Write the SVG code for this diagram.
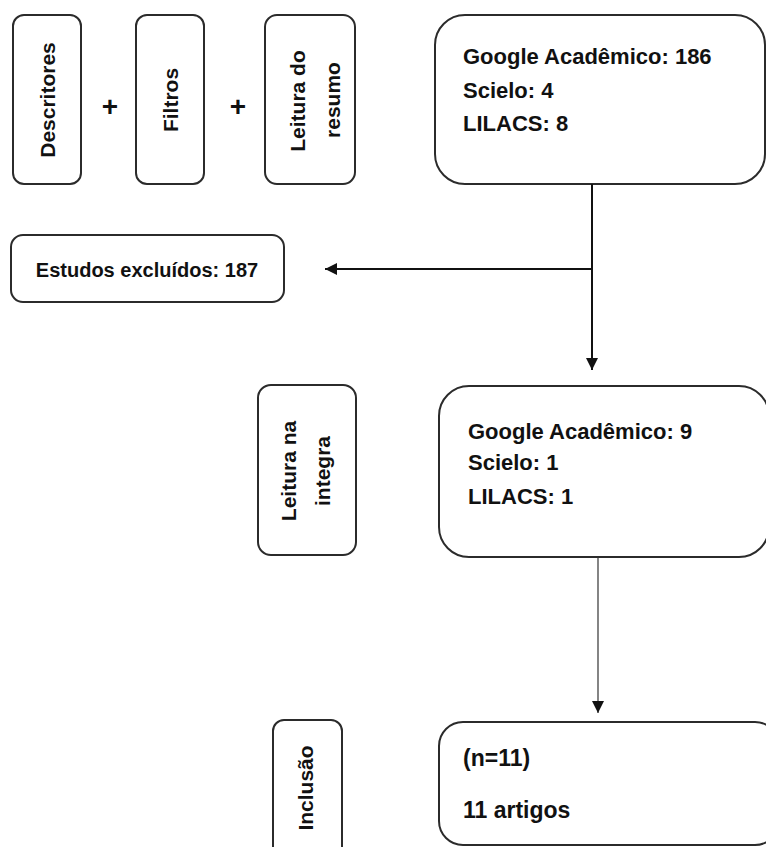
<svg xmlns="http://www.w3.org/2000/svg" width="766" height="847" viewBox="0 0 766 847">
<style>
.box{fill:#fff;stroke:#2b2b2b;stroke-width:2}
.t{font-family:"Liberation Sans",Arial,sans-serif;font-weight:bold;fill:#111}
.v{font-size:21px;text-anchor:middle;dominant-baseline:central}
.h{font-size:22px}
.ln{stroke:#111;stroke-width:2;fill:none}
.ln1{stroke:#333;stroke-width:1.2;fill:none}
</style>
<defs>
<marker id="ah" markerWidth="12" markerHeight="12" refX="12" refY="6" orient="auto" markerUnits="userSpaceOnUse">
<path d="M0,0 L12,6 L0,12 Z" fill="#111"/>
</marker>
</defs>
<rect width="766" height="847" fill="#fff"/>
<g id="descritores">
<rect class="box" x="13" y="15" width="68" height="169" rx="11"/>
<text class="t v" transform="translate(47,100) rotate(-90)">Descritores</text>
</g>
<g id="plus1"><text class="t" x="110" y="116" font-size="28" text-anchor="middle">+</text></g>
<g id="filtros">
<rect class="box" x="136" y="15" width="68" height="169" rx="11"/>
<text class="t v" transform="translate(170,100) rotate(-90)">Filtros</text>
</g>
<g id="plus2"><text class="t" x="238" y="116" font-size="28" text-anchor="middle">+</text></g>
<g id="leitura-resumo">
<rect class="box" x="265" y="15" width="90" height="169" rx="12"/>
<text class="t v" transform="translate(297,101) rotate(-90)">Leitura do</text>
<text class="t v" transform="translate(332,100) rotate(-90)">resumo</text>
</g>
<g id="busca">
<rect class="box" x="435" y="15" width="330" height="169" rx="30"/>
<text class="t h" x="463" y="64">Google Acadêmico: 186</text>
<text class="t h" x="463" y="98">Scielo: 4</text>
<text class="t h" x="463" y="131">LILACS: 8</text>
</g>
<g id="excluidos">
<rect class="box" x="11" y="235" width="273" height="67" rx="12"/>
<text class="t" x="147" y="277" font-size="20" text-anchor="middle">Estudos excluídos: 187</text>
</g>
<g id="leitura-integra">
<rect class="box" x="258" y="385" width="98" height="170" rx="13"/>
<text class="t v" transform="translate(288,471) rotate(-90)">Leitura na</text>
<text class="t v" transform="translate(322,471) rotate(-90)">integra</text>
</g>
<g id="selecionados">
<rect class="box" x="439" y="386" width="330" height="171" rx="30"/>
<text class="t h" x="468" y="439">Google Acadêmico: 9</text>
<text class="t h" x="468" y="470">Scielo: 1</text>
<text class="t h" x="468" y="504">LILACS: 1</text>
</g>
<g id="inclusao">
<rect class="box" x="273" y="720" width="69" height="140" rx="11"/>
<text class="t v" transform="translate(305,788) rotate(-90)">Inclusão</text>
</g>
<g id="resultado">
<rect class="box" x="439" y="722" width="340" height="123" rx="24"/>
<text class="t" x="463" y="766" font-size="23">(n=11)</text>
<text class="t" x="463" y="818" font-size="23">11 artigos</text>
</g>
<g id="connectors">
<path class="ln" d="M592,184 V370" marker-end="url(#ah)"/>
<path class="ln" d="M592,269 H325" marker-end="url(#ah)"/>
<path class="ln1" d="M598,557 V713" marker-end="url(#ah)"/>
</g>
</svg>
